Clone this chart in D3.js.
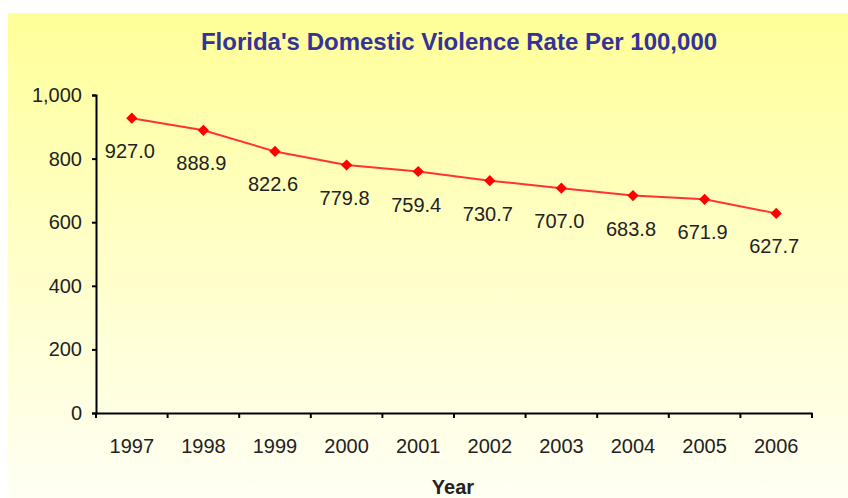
<!DOCTYPE html>
<html><head><meta charset="utf-8">
<script src="https://cdn.jsdelivr.net/npm/d3@7"></script>
<style>html,body{margin:0;padding:0;background:#fff;}svg{display:block;}</style>
</head><body>
<svg id="c" width="848" height="498"></svg>
<script>
(function(){
const years = ["1997","1998","1999","2000","2001","2002","2003","2004","2005","2006"];
const rates = [927.0, 888.9, 822.6, 779.8, 759.4, 730.7, 707.0, 683.8, 671.9, 627.7];
const yTicks = [0, 200, 400, 600, 800, 1000];
const title = "Florida's Domestic Violence Rate Per 100,000";
const xTitle = "Year";

const svg = d3.select("#c");
const defs = svg.append("defs");
const g = defs.append("linearGradient").attr("id","bg").attr("x1",0).attr("y1",0).attr("x2",0).attr("y2",1);
g.append("stop").attr("offset","0%").attr("stop-color","#ffff99");
g.append("stop").attr("offset","45%").attr("stop-color","#ffffc4");
g.append("stop").attr("offset","100%").attr("stop-color","#fffff4");
svg.append("rect").attr("x",8).attr("y",13).attr("width",840).attr("height",485).attr("fill","url(#bg)");

const pl = 96, pr = 812, pt = 95, pb = 413;
const x = d3.scaleBand().domain(years).range([pl, pr]).padding(0);
const y = d3.scaleLinear().domain([0, 1000]).range([pb, pt]);

const font = "'Liberation Sans', Arial, sans-serif";

svg.append("text").attr("x", 459).attr("y", 50).attr("text-anchor","middle")
  .attr("font-family", font).attr("font-weight","bold").attr("font-size", 24)
  .attr("fill","#333399").text(title);

const ya = svg.append("g").attr("transform",`translate(${pl},0)`)
  .call(d3.axisLeft(y).tickValues(yTicks).tickSize(4).tickPadding(10).tickFormat(d3.format(",")));
ya.select(".domain").attr("stroke","#000").attr("stroke-width",2);
ya.selectAll(".tick line").attr("stroke","#000").attr("stroke-width",2);
ya.selectAll("text").attr("font-family",font).attr("font-size",20).attr("fill","#222");

const xa = svg.append("g").attr("transform",`translate(0,${pb})`)
  .call(d3.axisBottom(x).tickSize(0).tickPadding(26));
xa.select(".domain").attr("stroke","#000").attr("stroke-width",2);
xa.selectAll("text").attr("font-family",font).attr("font-size",20).attr("fill","#222");
const bounds = years.map(d => x(d)).concat([pr]);
xa.selectAll(".sep").data(bounds).enter().append("line").attr("class","sep")
  .attr("x1",d=>d).attr("x2",d=>d).attr("y1",0).attr("y2",5)
  .attr("stroke","#000").attr("stroke-width",2);

svg.append("text").attr("x", 453).attr("y", 494).attr("text-anchor","middle")
  .attr("font-family", font).attr("font-weight","bold").attr("font-size", 20)
  .attr("fill","#222").text(xTitle);

const cx = d => x(d) + x.bandwidth()/2;
const line = d3.line().x((d,i)=>cx(years[i])).y(d=>y(d));
svg.append("path").datum(rates).attr("d",line).attr("fill","none")
  .attr("stroke","#ff3333").attr("stroke-width",2);

svg.selectAll(".pt").data(rates).enter().append("path").attr("class","pt")
  .attr("d", d3.symbol().type(d3.symbolDiamond2).size(80))
  .attr("transform",(d,i)=>`translate(${cx(years[i])},${y(d)})`)
  .attr("fill","#ff0000");

svg.selectAll(".lbl").data(rates).enter().append("text").attr("class","lbl")
  .attr("x",(d,i)=>cx(years[i]) - 2).attr("y",d=>y(d)+40)
  .attr("text-anchor","middle").attr("font-family",font).attr("font-size",20)
  .attr("fill","#222").text(d=>d.toFixed(1));
})();
</script>
</body></html>
